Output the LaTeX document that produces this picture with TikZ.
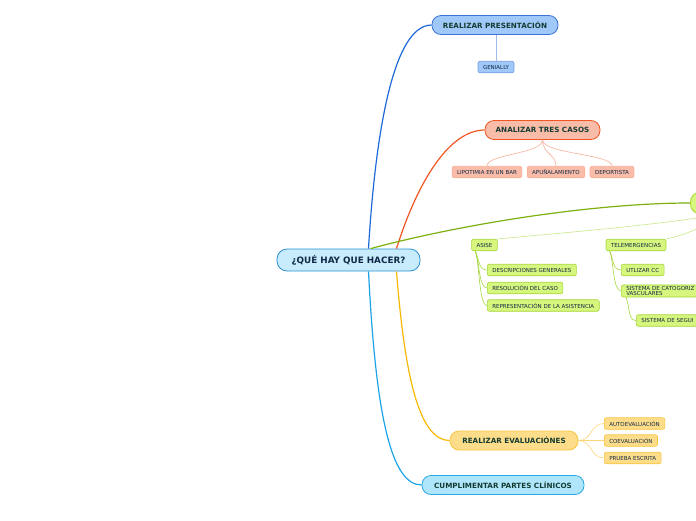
\documentclass[tikz,border=0pt]{standalone}
\usepackage{fontspec}
\setmainfont{DejaVu Sans}
\usepackage{tikz}
\usetikzlibrary{positioning,calc}
\usepackage{xcolor}
\definecolor{navy}{RGB}{16,40,70}
\definecolor{dkgreen}{RGB}{20,60,50}
\definecolor{cenfill}{RGB}{200,236,251}
\definecolor{cendraw}{RGB}{43,143,214}
\definecolor{bluel}{RGB}{30,105,215}
\definecolor{bluefill}{RGB}{160,200,248}
\definecolor{bluedraw}{RGB}{60,115,212}
\definecolor{redl}{RGB}{240,85,34}
\definecolor{redfill}{RGB}{249,188,168}
\definecolor{reddraw}{RGB}{244,120,85}
\definecolor{greenl}{RGB}{125,175,15}
\definecolor{greenfill}{RGB}{214,246,125}
\definecolor{greendraw}{RGB}{165,214,58}
\definecolor{yell}{RGB}{249,184,0}
\definecolor{yelfill}{RGB}{254,221,138}
\definecolor{yeldraw}{RGB}{248,197,64}
\definecolor{cyanl}{RGB}{27,163,232}
\definecolor{cyanfill}{RGB}{176,230,252}
\definecolor{cyandraw}{RGB}{39,168,230}

\begin{document}
\begin{tikzpicture}[x=1pt,y=-1pt,
  topic/.style={draw,line width=0.8pt,rounded corners=9pt,minimum height=19pt,
    inner xsep=8pt,font=\fontsize{7.2}{7.6}\selectfont\bfseries,text=dkgreen},
  leaf/.style={draw,line width=0.6pt,rounded corners=2pt,minimum height=11.5pt,
    inner xsep=5pt,inner ysep=1pt,font=\fontsize{5.5}{6}\selectfont,text=navy},
  branch/.style={line width=1.2pt},
  twig/.style={line width=0.6pt}]
\useasboundingbox (0,0) rectangle (696,520);
\clip (0,0) rectangle (696,520);

% central topic
\node[topic,fill=cenfill,draw=cendraw,text=navy,minimum width=143pt,minimum height=22pt,
  rounded corners=10pt,font=\fontsize{8.8}{9}\selectfont\bfseries] (c) at (348.5,260) {¿QUÉ HAY QUE HACER?};

% main topics
\node[topic,fill=bluefill,draw=bluedraw,minimum width=126pt] (pres) at (495,25) {REALIZAR PRESENTACIÓN};
\node[topic,fill=redfill,draw=redl,minimum width=115pt] (tres) at (542.5,130) {ANALIZAR TRES CASOS};
\node[draw=greendraw,fill=greenfill,line width=0.8pt,rounded corners=10pt,
  minimum width=70pt,minimum height=22pt,anchor=west] (sim) at (690,203) {};
\node[topic,fill=yelfill,draw=yeldraw,minimum width=128pt] (eval) at (514,440.5) {REALIZAR EVALUACIÓNES};
\node[topic,fill=cyanfill,draw=cyandraw,minimum width=162pt] (part) at (503,485) {CUMPLIMENTAR PARTES CLÍNICOS};

% leaves
\node[leaf,fill=bluefill,draw=bluedraw!70] (gen) at (496,67) {GENIALLY};
\node[leaf,fill=redfill,draw=reddraw!60] (lip) at (487,172) {LIPOTIMIA EN UN BAR};
\node[leaf,fill=redfill,draw=reddraw!60] (apu) at (556,172) {APUÑALAMIENTO};
\node[leaf,fill=redfill,draw=reddraw!60] (dep) at (612,172) {DEPORTISTA};

\node[leaf,fill=greenfill,draw=greendraw] (asi) at (484.5,245) {ASISE};
\node[leaf,fill=greenfill,draw=greendraw,anchor=west] (des) at (487,270) {DESCRIPCIONES GENERALES};
\node[leaf,fill=greenfill,draw=greendraw,anchor=west] (res) at (487,288) {RESOLUCIÓN DEL CASO};
\node[leaf,fill=greenfill,draw=greendraw,anchor=west] (rep) at (487,305.5) {REPRESENTACIÓN DE LA ASISTENCIA};
\node[leaf,fill=greenfill,draw=greendraw] (tel) at (636,245) {TELEMERGENCIAS};
\node[leaf,fill=greenfill,draw=greendraw,anchor=west] (utl) at (621,270) {UTLIZAR CC};
\node[leaf,fill=greenfill,draw=greendraw,anchor=west,text width=90pt,align=left,
  font=\fontsize{5.5}{5.9}\selectfont] (cat) at (621,291) {SISTEMA DE CATOGORIZ\\VASCULARES};
\node[leaf,fill=greenfill,draw=greendraw,anchor=west,text width=70pt,align=left] (seg) at (636,320.5) {SISTEMA DE SEGUI};

\node[leaf,fill=yelfill,draw=yeldraw,anchor=west] (aut) at (604,423.5) {AUTOEVALUACIÓN};
\node[leaf,fill=yelfill,draw=yeldraw,anchor=west] (coe) at (604,440.5) {COEVALUACIÓN};
\node[leaf,fill=yelfill,draw=yeldraw,anchor=west] (pru) at (604,458) {PRUEBA ESCRITA};

% branches from the centre
\draw[branch,bluel] ($(c.north)+(20,0)$) .. controls (375,140) and (392,25) .. (pres.west);
\draw[branch,redl] ($(c.north)+(48,0)$) .. controls (418,180) and (450,130) .. (tres.west);
\draw[branch,greenl] ($(c.north)+(22,0)$) .. controls (470,222) and (600,203) .. (sim.west);
\draw[branch,yell] ($(c.south)+(48,0)$) .. controls (405,380) and (420,440.5) .. (eval.west);
\draw[branch,cyanl] ($(c.south)+(20,0)$) .. controls (376,420) and (392,485) .. (part.west);

% twigs
\draw[twig,bluedraw!50] (pres.south-|gen) -- (gen.north);
\foreach \n in {lip,apu,dep}
  \draw[twig,reddraw!60] (tres.south) .. controls ($(tres.south)+(0,14)$) and ($(\n.north)+(0,-12)$) .. (\n.north);
\coordinate (simb) at ($(sim.south)+(-5,0)$);
\draw[twig,greendraw!60] (simb) .. controls (650,226) and (560,233) .. (asi.north east);
\draw[twig,greendraw!60] (simb) .. controls (700,230) and (680,236) .. (tel.north east);
\foreach \n in {des,res,rep}
  \draw[twig,greendraw] ($(asi.south west)+(4,0)$) .. controls ($(asi.south west)+(8,10)$) and ($(\n.west)+(-8,0)$) .. (\n.west);
\foreach \n in {utl,cat}
  \draw[twig,greendraw] ($(tel.south west)+(4,0)$) .. controls ($(tel.south west)+(8,10)$) and ($(\n.west)+(-8,0)$) .. (\n.west);
\draw[twig,greendraw] ($(cat.south west)+(5,0)$) .. controls ($(cat.south west)+(9,10)$) and ($(seg.west)+(-8,0)$) .. (seg.west);
\foreach \n in {aut,coe,pru}
  \draw[twig,yeldraw!70] (eval.east) .. controls ($(eval.east)+(14,0)$) and ($(\n.west)+(-14,0)$) .. (\n.west);
\end{tikzpicture}
\end{document}
